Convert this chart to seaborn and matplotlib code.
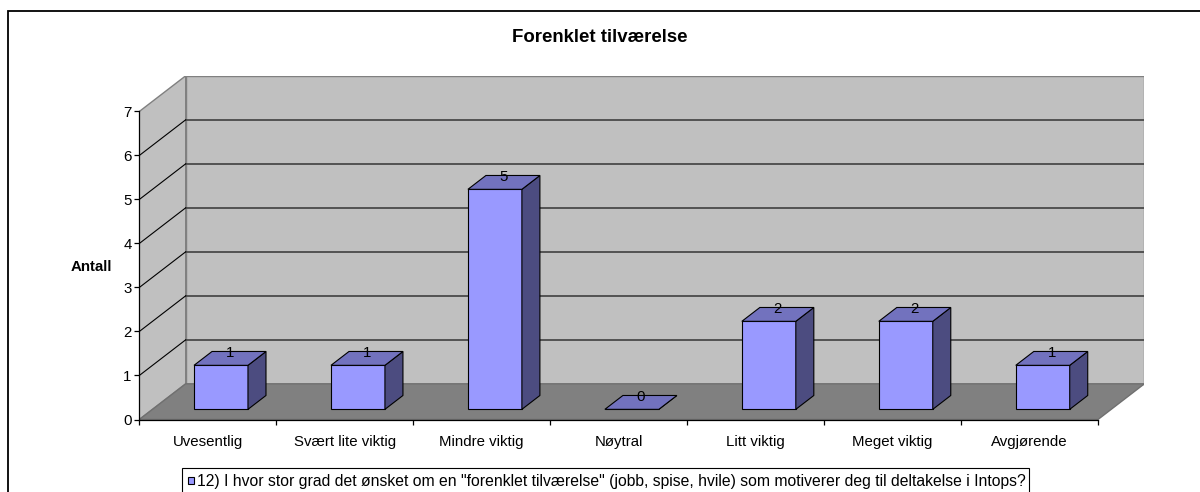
import numpy as np
import pandas as pd
import matplotlib
matplotlib.use("Agg")
import matplotlib.pyplot as plt
import matplotlib.transforms as mtransforms
from matplotlib.patches import Polygon, Rectangle
from matplotlib.lines import Line2D
import seaborn as sns

# ---------------- data ----------------
categories = ["Uvesentlig", "Svært lite viktig", "Mindre viktig", "Nøytral",
              "Litt viktig", "Meget viktig", "Avgjørende"]
counts = [1, 1, 5, 0, 2, 2, 1]
y_ticks = [0, 1, 2, 3, 4, 5, 6, 7]
title = "Forenklet tilværelse"
y_label = "Antall"
series_name = ('12) I hvor stor grad det ønsket om en "forenklet tilværelse" '
               '(jobb, spise, hvile) som motiverer deg til deltakelse i Intops?')

plt.rcParams['font.family'] = ['Liberation Sans', 'DejaVu Sans']

W, H = 1200, 492
fig = plt.figure(figsize=(12, 4.92), dpi=100)
fig.patch.set_facecolor('white')


def fx(x):
    return x / W


def fy(y):
    return 1 - y / H


# depth vector of the 3D box (in data units) and bar placement in depth
DX, DY = 0.3388, 0.811
DF = 0.285      # depth of bar front face
DB = 0.388      # bar depth
YMAX = max(y_ticks)
n = len(categories)

ax = fig.add_axes([fx(139.3), fy(419.5), (1144.4 - 139.3) / W, (419.5 - 75.8) / H])
ax.set_facecolor('none')

df = pd.DataFrame({"kategori": categories, "antall": counts})
sns.barplot(data=df, x="kategori", y="antall", order=categories, width=0.394,
            color="#9999FF", saturation=1, edgecolor="black", linewidth=0.8,
            ax=ax, zorder=4, errorbar=None)
bars = list(ax.patches)

off = mtransforms.Affine2D().translate(DF * DX, DF * DY) + ax.transData
for p, v in zip(bars, counts):
    p.set_transform(off)
    x0, w, h = p.get_x(), p.get_width(), p.get_height()
    x1 = x0 + w
    top = Polygon([(x0, h), (x1, h), (x1 + DB * DX, h + DB * DY), (x0 + DB * DX, h + DB * DY)],
                  closed=True, fc="#7272BE", ec="black", lw=0.8, transform=off, zorder=4)
    side = Polygon([(x1, 0), (x1 + DB * DX, DB * DY), (x1 + DB * DX, h + DB * DY), (x1, h)],
                   closed=True, fc="#4C4C80", ec="black", lw=0.8, transform=off, zorder=4)
    ax.add_patch(side)
    ax.add_patch(top)
    ax.text(x0 + w / 2 + DB * DX / 2, h + DB * DY - 0.04, str(v), transform=off,
            ha="center", va="center", fontsize=10.8, zorder=6)

# walls and floor
xl, xr = -0.5, n - 0.5
back = Polygon([(xl + DX, DY), (xr + DX, DY), (xr + DX, YMAX + DY), (xl + DX, YMAX + DY)],
               closed=True, fc="#C0C0C0", ec="#808080", lw=1.0, zorder=0)
left = Polygon([(xl, 0), (xl + DX, DY), (xl + DX, YMAX + DY), (xl, YMAX)],
               closed=True, fc="#C0C0C0", ec="#808080", lw=1.0, zorder=0)
floor = Polygon([(xl, 0), (xr, 0), (xr + DX, DY), (xl + DX, DY)],
                closed=True, fc="#808080", ec="#707070", lw=1.0, zorder=1)
for patch in (back, left, floor):
    ax.add_patch(patch)

for v in y_ticks[1:-1]:
    ax.add_line(Line2D([xl + DX, xr + DX], [v + DY, v + DY], color="#4a4a4a", lw=1.3, zorder=0.5))
    ax.add_line(Line2D([xl, xl + DX], [v, v + DY], color="black", lw=0.8, zorder=0.5))

ax.set_xlim(xl, xr + DX)
ax.set_ylim(0, YMAX + DY)

for s in ("top", "right"):
    ax.spines[s].set_visible(False)
ax.spines["left"].set_bounds(0, YMAX)
ax.spines["bottom"].set_bounds(xl, xr)
for s in ("left", "bottom"):
    ax.spines[s].set_linewidth(0.9)
    ax.spines[s].set_zorder(5)

ax.set_yticks(y_ticks)
ax.set_yticklabels([str(t) for t in y_ticks])
ax.tick_params(axis="y", direction="out", length=3.6, width=0.9, pad=2, labelsize=10.8)
ax.set_xticks(np.arange(xl, xr + 0.01, 1.0))
ax.set_xticklabels([])
ax.set_xticks(range(n), minor=True)
ax.set_xticklabels(categories, minor=True)
ax.tick_params(axis="x", which="major", direction="out", length=3.6, width=0.9)
ax.tick_params(axis="x", which="minor", length=0, pad=11, labelsize=10.8)
ax.set_xlabel("")
ax.set_ylabel("")

# titles
fig.text(fx(600), fy(37.5), title, ha="center", va="center", fontsize=13.4, weight="bold")
fig.text(fx(91), fy(267), y_label, ha="center", va="center", fontsize=10.8, weight="bold")

# legend box
fig.add_artist(Rectangle((fx(181.7), fy(515)), (1029.3 - 181.7) / W, (515 - 468.3) / H,
                         transform=fig.transFigure, fill=False, ec="black", lw=0.8))
fig.add_artist(Rectangle((fx(187.5), fy(483.5)), 6.5 / W, 6.5 / H,
                         transform=fig.transFigure, fc="#9999FF", ec="black", lw=0.8))
fig.text(fx(197), fy(481.5), series_name, ha="left", va="center", fontsize=11.3)

# outer chart border
fig.add_artist(Rectangle((fx(8), -0.1), 1.2, fy(11) + 0.1, transform=fig.transFigure,
                         fill=False, ec="black", lw=1.3))

fig.savefig("out.png", dpi=100)
